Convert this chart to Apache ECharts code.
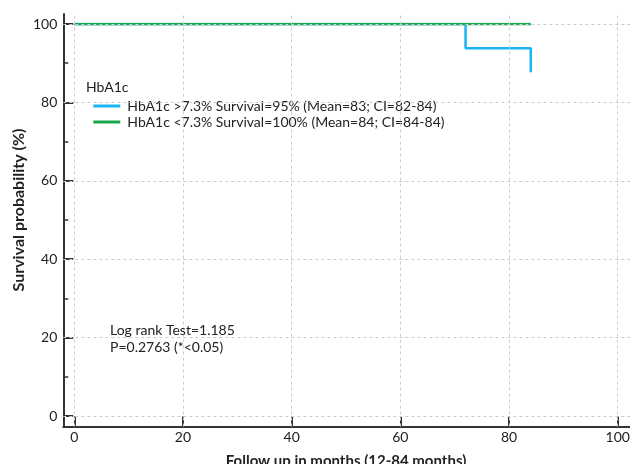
<!DOCTYPE html>
<html>
<head>
<meta charset="utf-8">
<script src="https://cdn.jsdelivr.net/npm/echarts@6/dist/echarts.min.js"></script>
<style>html,body{margin:0;padding:0;background:#fff}#c{width:630px;height:464px}</style>
</head>
<body>
<div id="c"></div>
<script>
// Data
const seriesNames = ['HbA1c >7.3% Survival=95% (Mean=83; CI=82-84)', 'HbA1c <7.3% Survival=100% (Mean=84; CI=84-84)'];
const timeHigh = [0, 72, 84];
const survHigh = [100, 93.8, 87.7];
const timeLow = [0, 84];
const survLow = [100, 100];
const xTicks = [0, 20, 40, 60, 80, 100];
const yTicks = [0, 20, 40, 60, 80, 100];
const legendTitle = 'HbA1c';
const noteLines = ['Log rank Test=1.185', 'P=0.2763 (*<0.05)'];
const xTitle = 'Follow up in months (12-84 months)';
const yTitle = 'Survival probability (%)';

const FONT = 'Lato';
const axisColor = '#333';
const chart = echarts.init(document.getElementById('c'), null, {renderer: 'canvas'});
const zip = (a, b) => a.map((v, i) => [v, b[i]]);

chart.setOption({
  animation: false,
  backgroundColor: '#fff',
  textStyle: {fontFamily: FONT},
  title: [
    {text: legendTitle, left: 86, top: 80, padding: 0, textStyle: {fontFamily: FONT, fontSize: 14, fontWeight: 'normal', color: '#222'}},
    {text: noteLines.join('\n'), left: 110, top: 322, padding: 0, textStyle: {fontFamily: FONT, fontSize: 14, fontWeight: 'normal', color: '#222', lineHeight: 17}}
  ],
  legend: {
    orient: 'vertical', left: 88.3, top: 93, itemWidth: 27, itemHeight: 3, itemGap: 0,
    icon: 'rect',
    textStyle: {fontFamily: FONT, fontSize: 14, color: '#222', lineHeight: 16, padding: [0, 0, 0, 2]},
    data: seriesNames
  },
  grid: [
    {left: 74.3, right: 12.3, top: 24, bottom: 48, containLabel: false, outerBoundsMode: 'none'},
    {left: 63.3, right: 0, top: 14, bottom: 37.5, containLabel: false, outerBoundsMode: 'none'}
  ],
  xAxis: [
    {gridIndex: 0, type: 'value', min: xTicks[0], max: xTicks[xTicks.length - 1], interval: 20, offset: 10.5,
     axisLine: {show: true, onZero: false, lineStyle: {color: 'rgba(0,0,0,0)', width: 0}},
     axisTick: {show: true, inside: true, length: 10, lineStyle: {color: axisColor, width: 2}},
     axisLabel: {margin: 4, color: '#222', fontSize: 14, fontFamily: FONT},
     splitLine: {show: false},
     name: xTitle, nameLocation: 'middle', nameGap: 27,
     nameTextStyle: {fontFamily: FONT, fontSize: 15, fontWeight: 'bold', color: '#222'}},
    {gridIndex: 1, type: 'value', min: -2.02, max: 102.26,
     axisLine: {show: true, onZero: false, lineStyle: {color: axisColor, width: 2}},
     axisTick: {show: false}, axisLabel: {show: false}, splitLine: {show: false}}
  ],
  yAxis: [
    {gridIndex: 0, type: 'value', min: yTicks[0], max: yTicks[yTicks.length - 1], interval: 20, offset: 11,
     axisLine: {show: true, onZero: false, lineStyle: {color: 'rgba(0,0,0,0)', width: 0}},
     axisTick: {show: true, inside: true, length: 10, lineStyle: {color: axisColor, width: 2}},
     minorTick: {show: true, splitNumber: 2, length: 5, lineStyle: {color: axisColor, width: 1.5}},
     axisLabel: {margin: 6, color: '#222', fontSize: 14, fontFamily: FONT},
     splitLine: {show: false},
     name: yTitle, nameLocation: 'middle', nameGap: 36, nameMoveOverlap: false,
     nameTextStyle: {fontFamily: FONT, fontSize: 16, fontWeight: 'bold', color: '#222', padding: [0, 0, 0, 20]}},
    {gridIndex: 1, type: 'value', min: -2.68, max: 102.6,
     axisLine: {show: true, onZero: false, lineStyle: {color: axisColor, width: 2}},
     axisTick: {show: false}, axisLabel: {show: false}, splitLine: {show: false}}
  ],
  series: [
    {type: 'line', xAxisIndex: 1, yAxisIndex: 1, data: [], silent: true, z: 1,
     markLine: {symbol: 'none', silent: true, label: {show: false},
       lineStyle: {type: [3, 3], color: '#cccccc', width: 1},
       data: xTicks.map(v => ({xAxis: v})).concat(yTicks.map(v => ({yAxis: v})))}},
    {name: seriesNames[0], type: 'line', step: 'end', xAxisIndex: 0, yAxisIndex: 0,
     data: zip(timeHigh, survHigh), showSymbol: false, symbol: 'none', z: 3,
     color: '#1ab4f2', lineStyle: {width: 2.5, color: '#1ab4f2'}},
    {name: seriesNames[1], type: 'line', step: 'end', xAxisIndex: 0, yAxisIndex: 0,
     data: zip(timeLow, survLow), showSymbol: false, symbol: 'none', z: 4,
     color: '#17a64b', lineStyle: {width: 2.5, color: '#17a64b'}}
  ]
});
</script>
</body>
</html>
